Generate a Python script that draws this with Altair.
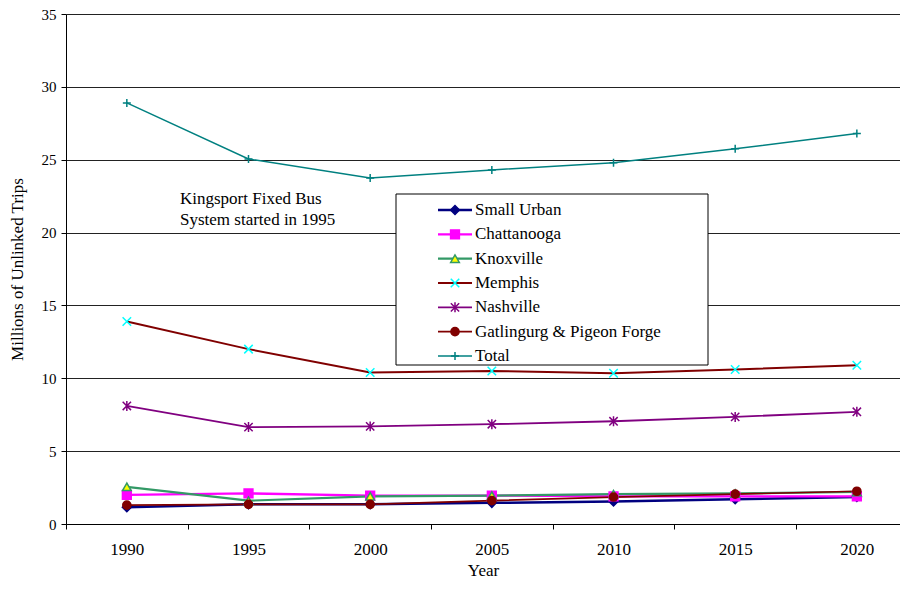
import altair as alt
import pandas as pd

# ---- data -----------------------------------------------------------------
years = [1990, 1995, 2000, 2005, 2010, 2015, 2020]
series = ["Small Urban", "Chattanooga", "Knoxville", "Memphis", "Nashville",
          "Gatlingurg & Pigeon Forge", "Total"]

small_urban = [1.15, 1.35, 1.35, 1.45, 1.55, 1.7, 1.85]
chattanooga = [2.0, 2.1, 1.95, 1.95, 1.9, 1.9, 1.9]
knoxville = [2.55, 1.6, 1.9, 1.95, 2.05, 2.1, 2.2]
memphis = [13.9, 12.0, 10.4, 10.5, 10.35, 10.6, 10.9]
nashville = [8.1, 6.65, 6.7, 6.85, 7.05, 7.35, 7.7]
gatlinburg = [1.3, 1.35, 1.35, 1.6, 1.85, 2.05, 2.25]
total = [28.9, 25.05, 23.75, 24.3, 24.8, 25.75, 26.8]

y_ticks = [0, 5, 10, 15, 20, 25, 30, 35]
# category boundaries (ticks sit between the year categories)
x_bounds = [1987.5, 1992.5, 1997.5, 2002.5, 2007.5, 2012.5, 2017.5]
note_text = ["Kingsport Fixed Bus", "System started in 1995"]

all_values = [small_urban, chattanooga, knoxville, memphis, nashville, gatlinburg, total]
rows = []
for name, vals in zip(series, all_values):
    for yr, v in zip(years, vals):
        rows.append({"series": name, "year": yr, "trips": v})
df = pd.DataFrame(rows)

leg_df = pd.DataFrame({"series": series, "row": list(range(len(series)))})

# ---- styles ---------------------------------------------------------------
FONT = "'Liberation Serif', 'Times New Roman', 'DejaVu Serif', serif"
FS = 17
W = 834
H = 510
TOP = 6
PX_PER_YEAR = 121.67 / 5
line_colors = ["#000080", "#FF00FF", "#339966", "#800000", "#800080", "#800000", "#008080"]
line_widths = [2.5, 1.5, 2.5, 2.5, 2.5, 2.5, 2.5]
marker_fill = ["#000080", "#FF00FF", "#FFFF00", "transparent", "transparent", "#800000", "transparent"]
marker_stroke = ["#000080", "#FF00FF", "#339966", "#00FFFF", "#800080", "#800000", "#008080"]
X_PATH = "M-1,-1L1,1M-1,1L1,-1"
STAR_PATH = "M-1,-1L1,1M-1,1L1,-1M0,-1.2L0,1.2"
PLUS_PATH = "M-1,0L1,0M0,-1L0,1"
marker_shapes = ["diamond", "square", "triangle-up", X_PATH, STAR_PATH, "circle", PLUS_PATH]
marker_sizes = [80, 64, 70, 100, 90, 150, 130]

color_enc = alt.Color("series:N", scale=alt.Scale(domain=series, range=line_colors), legend=None)
width_enc = alt.StrokeWidth("series:N", scale=alt.Scale(domain=series, range=line_widths), legend=None)
fill_enc = alt.Fill("series:N", scale=alt.Scale(domain=series, range=marker_fill), legend=None)
stroke_enc = alt.Stroke("series:N", scale=alt.Scale(domain=series, range=marker_stroke), legend=None)
shape_enc = alt.Shape("series:N", scale=alt.Scale(domain=series, range=marker_shapes), legend=None)
size_enc = alt.Size("series:N", scale=alt.Scale(domain=series, range=marker_sizes), legend=None)

x_lo = x_bounds[0]
x_hi = x_lo + W / PX_PER_YEAR
x_enc = alt.X(
    "year:Q",
    scale=alt.Scale(domain=[x_lo, x_hi], nice=False, zero=False),
    axis=alt.Axis(title="Year", values=x_bounds, grid=False, labelAngle=0,
                  labelExpr="format(datum.value + 2.5, 'd')",
                  labelOffset=PX_PER_YEAR * 2.5, labelFlush=False, labelOverlap=False,
                  labelBound=False, labelFontSize=FS,
                  tickSize=5, labelPadding=12, titlePadding=5),
)
y_enc = alt.Y(
    "trips:Q",
    scale=alt.Scale(domain=[0, 35], nice=False, zero=True),
    axis=alt.Axis(title="Millions of Unlinked Trips", values=y_ticks, grid=True,
                  gridColor="#222222", gridWidth=1, tickSize=5, labelPadding=5,
                  labelFontSize=15, titlePadding=15),
)

base = alt.Chart(df)
lines = base.mark_line().encode(x=x_enc, y=y_enc, color=color_enc, strokeWidth=width_enc,
                                order=alt.Order("year:Q"))
points = base.mark_point(opacity=1, strokeWidth=1.5).encode(
    x=x_enc, y=y_enc, fill=fill_enc, stroke=stroke_enc, shape=shape_enc, size=size_enc)
main = alt.layer(lines, points)

# ---- legend box (drawn manually) ------------------------------------------
off = 12 - TOP - 8  # keep legend at same page position
row_y = alt.Y("row:Q", scale=alt.Scale(domain=[0, len(series) - 1], range=[198 + off, 344 + off]),
              axis=None)
box = alt.Chart(pd.DataFrame({"b": [0]})).mark_rect(fill="white", stroke="black", strokeWidth=1).encode(
    x=alt.value(330), x2=alt.value(642), y=alt.value(182 + off), y2=alt.value(353 + off))
leg_lines = alt.Chart(leg_df).mark_rule().encode(
    x=alt.value(372), x2=alt.value(406), y=row_y, color=color_enc, strokeWidth=width_enc)
leg_points = alt.Chart(leg_df).mark_point(opacity=1, strokeWidth=1.5).encode(
    x=alt.value(389), y=row_y, fill=fill_enc, stroke=stroke_enc, shape=shape_enc, size=size_enc)
leg_text = alt.Chart(leg_df).mark_text(align="left", baseline="middle", font=FONT, fontSize=FS,
                                       color="black").encode(x=alt.value(409), y=row_y, text="series:N")
legend = alt.layer(box, leg_lines, leg_points, leg_text)

note = alt.Chart(pd.DataFrame({"t": ["\n".join(note_text)]})).mark_text(
    align="left", baseline="top", font=FONT, fontSize=FS, color="black",
    lineBreak="\n", lineHeight=21).encode(x=alt.value(114), y=alt.value(177), text="t:N")

chart = alt.layer(main, legend, note).resolve_scale(y="independent").properties(
    width=W, height=H,
    autosize=alt.AutoSizeParams(type="none"),
    padding={"left": 58, "top": TOP, "right": 0, "bottom": 58},
    background="white",
).configure_view(stroke=None).configure_axis(
    labelFont=FONT, titleFont=FONT, titleFontSize=FS,
    labelColor="black", titleColor="black", titleFontWeight="normal",
    domainColor="black", tickColor="black", domainWidth=1, tickWidth=1,
)

chart.save("out.html", embed_options={"renderer": "svg", "actions": False})
